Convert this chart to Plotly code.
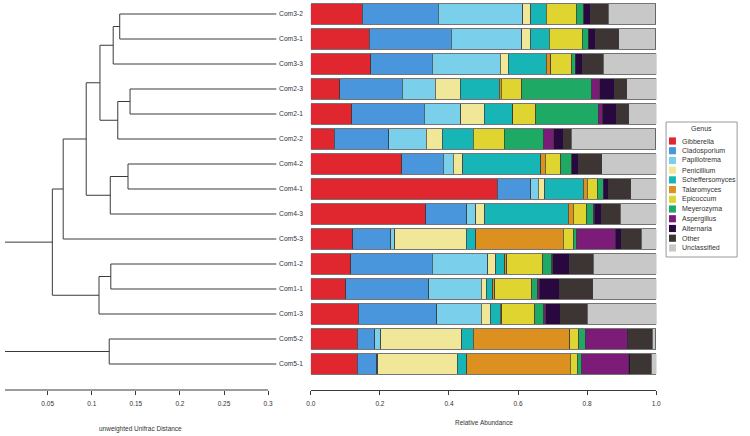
import plotly.graph_objects as go

W, H = 750, 436

samples = ["Com3-2", "Com3-1", "Com3-3", "Com2-3", "Com2-1", "Com2-2", "Com4-2", "Com4-1",
           "Com4-3", "Com5-3", "Com1-2", "Com1-1", "Com1-3", "Com5-2", "Com5-1"]

genera = ["Gibberella", "Cladosporium", "Papiliotrema", "Penicillium", "Scheffersomyces",
          "Talaromyces", "Epicoccum", "Meyerozyma", "Aspergillus", "Alternaria", "Other",
          "Unclassified"]

colors = ["#E0262E", "#4A96DC", "#7ACFEB", "#F0E898", "#17B5B5", "#DC9020",
          "#E0D430", "#1EAA64", "#7C1C78", "#28083F", "#3D3533", "#C8C8C8"]

gibberella = [0.149, 0.169, 0.174, 0.084, 0.118, 0.068, 0.263, 0.540, 0.332, 0.122, 0.116, 0.101, 0.137, 0.135, 0.135]
cladosporium = [0.220, 0.237, 0.178, 0.181, 0.210, 0.158, 0.121, 0.097, 0.120, 0.110, 0.236, 0.240, 0.228, 0.050, 0.056]
papiliotrema = [0.244, 0.204, 0.197, 0.095, 0.106, 0.108, 0.029, 0.021, 0.026, 0.011, 0.160, 0.152, 0.129, 0.018, 0.002]
penicillium = [0.024, 0.025, 0.022, 0.073, 0.068, 0.046, 0.027, 0.019, 0.026, 0.207, 0.023, 0.015, 0.025, 0.234, 0.231]
scheffersomyces = [0.045, 0.056, 0.111, 0.112, 0.082, 0.090, 0.226, 0.112, 0.242, 0.027, 0.026, 0.019, 0.030, 0.033, 0.027]
talaromyces = [0.0, 0.0, 0.012, 0.007, 0.0, 0.0, 0.013, 0.011, 0.014, 0.254, 0.006, 0.005, 0.004, 0.280, 0.300]
epicoccum = [0.086, 0.095, 0.062, 0.059, 0.067, 0.090, 0.044, 0.029, 0.039, 0.029, 0.105, 0.108, 0.095, 0.026, 0.021]
meyerozyma = [0.022, 0.017, 0.010, 0.203, 0.181, 0.114, 0.032, 0.017, 0.019, 0.010, 0.026, 0.016, 0.027, 0.018, 0.013]
aspergillus = [0.0, 0.0, 0.0, 0.022, 0.012, 0.029, 0.0, 0.0, 0.002, 0.111, 0.003, 0.005, 0.005, 0.122, 0.136]
alternaria = [0.019, 0.021, 0.020, 0.043, 0.042, 0.030, 0.020, 0.016, 0.023, 0.019, 0.047, 0.060, 0.043, 0.005, 0.004]
other = [0.052, 0.068, 0.061, 0.036, 0.035, 0.021, 0.068, 0.064, 0.053, 0.057, 0.070, 0.095, 0.078, 0.067, 0.061]
unclassified = [0.138, 0.107, 0.154, 0.086, 0.079, 0.245, 0.157, 0.074, 0.104, 0.043, 0.182, 0.184, 0.200, 0.011, 0.014]

genus_values = [gibberella, cladosporium, papiliotrema, penicillium, scheffersomyces, talaromyces,
                epicoccum, meyerozyma, aspergillus, alternaria, other, unclassified]

# dendrogram: node -> (child_a, child_b, height on the distance axis)
leaf_height = 0.3093
merges = {
    "n1": ("Com3-2", "Com3-1", 0.1317),
    "n2": ("n1", "Com3-3", 0.1243),
    "n3": ("Com2-3", "Com2-1", 0.1434),
    "n4": ("n3", "Com2-2", 0.1295),
    "n5": ("n2", "n4", 0.1093),
    "n6": ("Com4-2", "Com4-1", 0.1411),
    "n7": ("n6", "Com4-3", 0.1210),
    "n8": ("n5", "n7", 0.0937),
    "n9": ("n8", "Com5-3", 0.0676),
    "n10": ("Com1-2", "Com1-1", 0.1216),
    "n11": ("n10", "Com1-3", 0.1082),
    "n12": ("n9", "n11", 0.0553),
    "n13": ("Com5-2", "Com5-1", 0.1198),
    "root": ("n12", "n13", -0.02),
}

dist_ticks = [0.05, 0.1, 0.15, 0.2, 0.25, 0.3]
dist_ticktext = ["0.05", "0.1", "0.15", "0.2", "0.25", "0.3"]
abund_ticks = [0.0, 0.2, 0.4, 0.6, 0.8, 1.0]
abund_ticktext = ["0.0", "0.2", "0.4", "0.6", "0.8", "1.0"]

FONT = "Liberation Sans, Arial, sans-serif"
TXT = "#333333"
LINE = "#3a3a3a"


def px_x(p):
    return p / W


def px_y(p):
    return 1 - p / H


fig = go.Figure()

# ---- stacked bars ----
for g, c, vals in zip(genera, colors, genus_values):
    fig.add_trace(go.Bar(
        y=samples, x=vals, orientation="h", name=g,
        marker=dict(color=c, line=dict(color=LINE, width=0.7)),
        width=0.82, xaxis="x2", yaxis="y", showlegend=False,
    ))

# ---- dendrogram ----
pos = {s: (leaf_height, i) for i, s in enumerate(samples)}
xs, ys = [], []
for node, (a, b, h) in merges.items():
    xa, ya = pos[a]
    xb, yb = pos[b]
    xs += [xa, h, h, xb, None]
    ys += [ya, ya, yb, yb, None]
    pos[node] = (h, (ya + yb) / 2)

fig.add_trace(go.Scatter(x=xs, y=ys, mode="lines", line=dict(color=LINE, width=1),
                         xaxis="x", yaxis="y2", showlegend=False, hoverinfo="skip"))

yr = [15.04, -0.56]
ydom = [px_y(390), 1]

fig.update_layout(
    width=W, height=H, margin=dict(l=0, r=0, t=0, b=0),
    paper_bgcolor="white", plot_bgcolor="white",
    barmode="stack", font=dict(family=FONT, size=6.5, color=TXT),
    xaxis=dict(domain=[0, px_x(276)], range=[0.0016, (276 + 1.4) / 893.6], anchor="y2",
               tickvals=dist_ticks, ticktext=dist_ticktext, ticks="outside", ticklen=4,
               tickcolor=LINE, tickwidth=1, showline=False, showgrid=False, zeroline=False,
               ticklabelstandoff=3, tickfont=dict(size=6.5, color=TXT)),
    yaxis2=dict(domain=ydom, range=yr, visible=False, anchor="x"),
    xaxis2=dict(domain=[px_x(310), px_x(660)], range=[0, 1], anchor="y",
                tickvals=abund_ticks, ticktext=abund_ticktext, ticks="outside", ticklen=4,
                tickcolor=LINE, tickwidth=1, showline=True, linecolor=LINE, linewidth=1,
                showgrid=False, zeroline=False, ticklabelstandoff=3,
                tickfont=dict(size=6.5, color=TXT)),
    yaxis=dict(domain=ydom, range=yr, anchor="x2", type="category",
               categoryorder="array", categoryarray=samples,
               showgrid=False, zeroline=False, showline=False, ticks="",
               ticklabelstandoff=7, tickfont=dict(size=6.7, color=TXT)),
)

shapes = [dict(type="line", xref="x", yref="paper", x0=0, x1=0.3,
               y0=ydom[0], y1=ydom[0], line=dict(color=LINE, width=1))]
annotations = [
    dict(text="unweighted Unifrac Distance", x=px_x(137), y=px_y(429), xref="paper", yref="paper",
         showarrow=False, xanchor="center", yanchor="middle", font=dict(size=6.5, color=TXT)),
    dict(text="Relative Abundance", x=px_x(485), y=px_y(422), xref="paper", yref="paper",
         showarrow=False, xanchor="center", yanchor="middle", font=dict(size=6.5, color=TXT)),
]

# ---- legend (drawn manually for compact spacing) ----
shapes.append(dict(type="rect", xref="paper", yref="paper", x0=px_x(670), x1=px_x(742),
                   y0=px_y(257), y1=px_y(122), line=dict(color="#999999", width=1),
                   fillcolor="white", layer="below"))
annotations.append(dict(text="Genus", x=px_x(706), y=px_y(129), xref="paper", yref="paper",
                        showarrow=False, xanchor="center", yanchor="middle",
                        font=dict(size=7, color=TXT)))
for i, (g, c) in enumerate(zip(genera, colors)):
    yc = 141 + i * 9.72
    shapes.append(dict(type="rect", xref="paper", yref="paper", x0=px_x(673), x1=px_x(680),
                       y0=px_y(yc + 3.6), y1=px_y(yc - 3.6), line=dict(width=0), fillcolor=c))
    annotations.append(dict(text=g, x=px_x(684), y=px_y(yc), xref="paper", yref="paper",
                            showarrow=False, xanchor="left", yanchor="middle",
                            font=dict(size=7, color=TXT)))

fig.update_layout(shapes=shapes, annotations=annotations)
fig.write_html("out.html")
